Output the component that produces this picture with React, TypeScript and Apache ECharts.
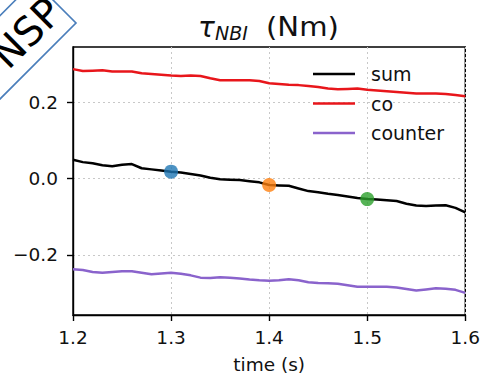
import React, { useEffect, useRef } from "react";
import * as echarts from "echarts";

const times = [
  1.2, 1.21, 1.22, 1.23, 1.24, 1.25, 1.26, 1.27, 1.28, 1.29, 1.3, 1.31, 1.32, 1.33,
  1.34, 1.35, 1.36, 1.37, 1.38, 1.39, 1.4, 1.41, 1.42, 1.43, 1.44, 1.45, 1.46, 1.47,
  1.48, 1.49, 1.5, 1.51, 1.52, 1.53, 1.54, 1.55, 1.56, 1.57, 1.58, 1.59, 1.6,
];
const sumValues = [
  0.049, 0.043, 0.04, 0.035, 0.032, 0.036, 0.038, 0.027, 0.024, 0.021, 0.018, 0.016,
  0.012, 0.008, 0.002, -0.002, -0.003, -0.004, -0.007, -0.01, -0.017, -0.018, -0.019,
  -0.026, -0.033, -0.036, -0.04, -0.043, -0.047, -0.051, -0.054, -0.055, -0.057,
  -0.059, -0.066, -0.071, -0.072, -0.071, -0.07, -0.077, -0.089,
];
const coValues = [
  0.287, 0.282, 0.283, 0.284, 0.281, 0.281, 0.281, 0.276, 0.274, 0.272, 0.27, 0.269,
  0.27, 0.269, 0.263, 0.258, 0.258, 0.258, 0.258, 0.256, 0.25, 0.248, 0.246, 0.245,
  0.243, 0.24, 0.236, 0.234, 0.235, 0.236, 0.233, 0.231, 0.229, 0.227, 0.225, 0.223,
  0.223, 0.223, 0.222, 0.219, 0.216,
];
const counterValues = [
  -0.238, -0.24, -0.245, -0.247, -0.245, -0.243, -0.243, -0.247, -0.251, -0.249,
  -0.247, -0.25, -0.254, -0.26, -0.261, -0.259, -0.26, -0.262, -0.265, -0.267, -0.268,
  -0.267, -0.264, -0.267, -0.272, -0.274, -0.275, -0.276, -0.28, -0.284, -0.284,
  -0.284, -0.284, -0.286, -0.29, -0.294, -0.291, -0.288, -0.289, -0.292, -0.3,
];
const markerTimes = [1.3, 1.4, 1.5];
const markerValues = [0.018, -0.017, -0.054];
const markerColors = ["#1f77b4", "#ff7f0e", "#2ca02c"];
const xTicks = [1.2, 1.3, 1.4, 1.5, 1.6];
const yTicks = [-0.2, 0, 0.2];
const seriesNames = ["sum", "co", "counter"];
const seriesColors = ["#000000", "#e8161b", "#8a63cc"];

const FONT = "DejaVu Sans";

const fmt = (v: number) => v.toFixed(1).replace("-", "\u2212");

export default function App() {
  const ref = useRef<HTMLDivElement>(null);
  useEffect(() => {
    if (!ref.current) return;
    const chart = echarts.init(ref.current, null, { renderer: "svg" });
    const seriesValues = [sumValues, coValues, counterValues];
    const axisCommon = {
      axisLine: { show: true, onZero: false, lineStyle: { color: "#000", width: 1.4 } },
      splitLine: { show: true, lineStyle: { color: "#c8c8c8", width: 1, type: [2, 3] } },
    };
    chart.setOption({
      animation: false,
      backgroundColor: "#fff",
      grid: {
        left: 73,
        right: 17,
        top: 47,
        bottom: 61,
        show: true,
        borderColor: "#000",
        borderWidth: 1.4,
      },
      legend: {
        data: seriesNames.map((n) => ({ name: n, icon: "rect" })),
        orient: "vertical",
        left: 313,
        top: 64,
        padding: 0,
        itemWidth: 42,
        itemHeight: 2.5,
        itemGap: 9.5,
        textStyle: {
          fontFamily: FONT,
          fontSize: 19,
          lineHeight: 20,
          color: "#111",
          padding: [0, 0, 0, 11],
        },
      },
      xAxis: {
        type: "value",
        min: 1.2,
        max: 1.6,
        ...axisCommon,
        axisTick: {
          show: true,
          length: 6,
          customValues: xTicks,
          lineStyle: { color: "#000", width: 1.4 },
        },
        axisLabel: {
          customValues: xTicks,
          formatter: fmt,
          fontFamily: FONT,
          fontSize: 18.5,
          color: "#111",
          margin: 13,
        },
        name: "time (s)",
        nameLocation: "middle",
        nameGap: 40,
        nameTextStyle: { fontFamily: FONT, fontSize: 18.5, color: "#111" },
      },
      yAxis: {
        type: "value",
        min: -0.358,
        max: 0.345,
        ...axisCommon,
        axisTick: {
          show: true,
          length: 6,
          customValues: yTicks,
          lineStyle: { color: "#000", width: 1.4 },
        },
        axisLabel: {
          customValues: yTicks,
          formatter: fmt,
          fontFamily: FONT,
          fontSize: 18.5,
          color: "#111",
          margin: 15,
        },
      },
      series: [
        ...seriesNames.map((name, si) => ({
          name,
          type: "line",
          symbol: "none",
          color: seriesColors[si],
          lineStyle: { color: seriesColors[si], width: 2.5 },
          data: times.map((t, i) => [t, seriesValues[si][i]]),
          z: 3,
        })),
        {
          name: "markers",
          type: "scatter",
          symbolSize: 14,
          z: 5,
          data: markerTimes.map((t, i) => ({
            value: [t, markerValues[i]],
            itemStyle: { color: markerColors[i] },
          })),
        },
      ],
      graphic: [
        {
          type: "group",
          x: 198,
          y: 0,
          children: [
            {
              type: "text",
              x: 0,
              y: 27,
              style: {
                text: "\u03c4",
                font: `italic 28px ${FONT}`,
                fill: "#111",
                verticalAlign: "middle",
              },
            },
            {
              type: "text",
              x: 17,
              y: 33,
              style: {
                text: "NBI",
                font: `italic 19px ${FONT}`,
                fill: "#111",
                verticalAlign: "middle",
              },
            },
            {
              type: "text",
              x: 68,
              y: 27,
              scaleX: 1.12,
              style: {
                text: "(Nm)",
                font: `26px ${FONT}`,
                fill: "#111",
                verticalAlign: "middle",
              },
            },
          ],
        },
        {
          type: "group",
          x: 76,
          y: 23,
          rotation: Math.PI / 4,
          z: 100,
          children: [
            {
              type: "rect",
              shape: { x: -220, y: -59, width: 220, height: 59 },
              style: { fill: "none", stroke: "#4a7ebb", lineWidth: 1.6 },
            },
            {
              type: "text",
              x: -42,
              y: -28,
              style: {
                text: "NSP",
                font: `40px ${FONT}`,
                fill: "#000",
                align: "center",
                verticalAlign: "middle",
              },
            },
          ],
        },
      ],
    });
    return () => chart.dispose();
  }, []);
  return (
    <div
      ref={ref}
      style={{ position: "fixed", left: 0, top: 0, width: 483, height: 379 }}
    />
  );
}
